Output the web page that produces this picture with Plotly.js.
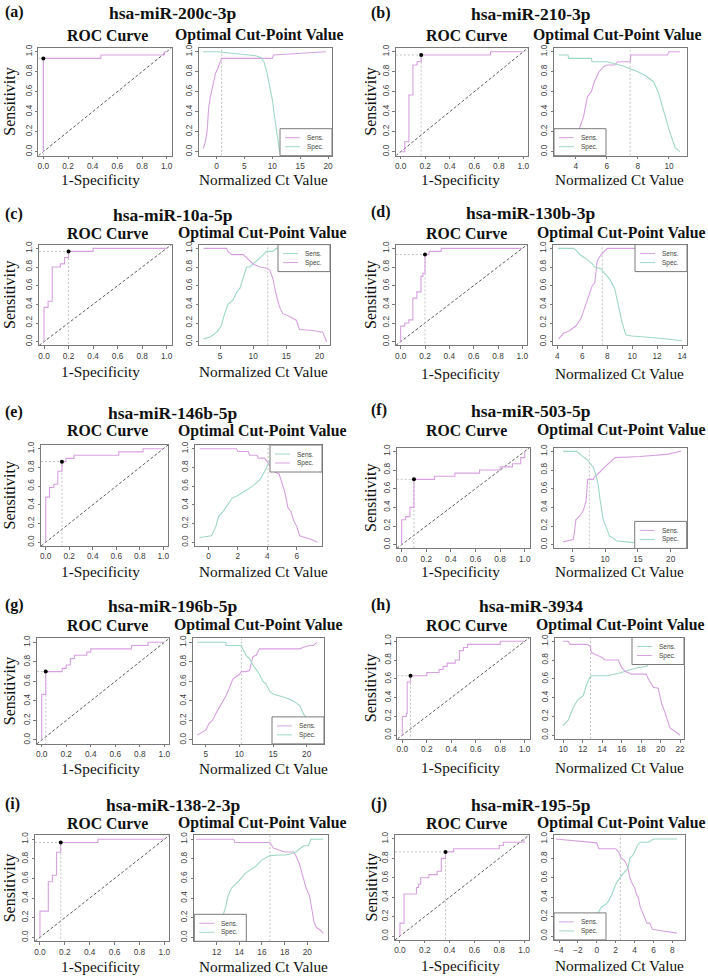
<!DOCTYPE html>
<html>
<head>
<meta charset="utf-8">
<script src="https://cdn.plot.ly/plotly-3.0.1.min.js"></script>
<style>
  html, body { margin: 0; padding: 0; background: #fff; }
  #chart { width: 708px; height: 976px; }
</style>
</head>
<body>
<div id="chart"></div>
<script>
// ---------- (a) hsa-miR-200c-3p ----------
const nameA = 'hsa-miR-200c-3p';
const rocFprA = [0, 0, 0.467, 0.98, 1];
const rocTprA = [0, 0.933, 0.967, 1, 1];
const optA = [0, 0.933];
const ctSensA = [-2.4, -2.0, -1.7, -1.4, -1.1, -0.8, -0.5, -0.2, 0.2, 0.5, 0.9, 10.0, 10.2, 19.6];
const sensA = [0.03, 0.1, 0.2, 0.45, 0.55, 0.62, 0.72, 0.78, 0.83, 0.87, 0.933, 0.933, 0.967, 1.0];
const ctSpecA = [-2.4, 0, 2, 4, 6, 7, 8, 8.5, 9, 9.5, 10.0, 10.4, 10.9, 11.3];
const specA = [1.0, 1.0, 0.99, 0.98, 0.97, 0.96, 0.94, 0.9, 0.8, 0.66, 0.52, 0.35, 0.15, 0.0];
const cutA = 0.9;

// ---------- (b) hsa-miR-210-3p ----------
const nameB = 'hsa-miR-210-3p';
const rocFprB = [0, 0.033, 0.067, 0.1, 0.133, 0.167, 0.733, 1];
const rocTprB = [0, 0.1, 0.567, 0.867, 0.9, 0.967, 1, 1];
const optB = [0.167, 0.967];
const ctSensB = [3.0, 3.6, 4.0, 4.3, 4.5, 4.75, 5.0, 5.2, 5.5, 5.8, 6.0, 6.5, 6.7, 7.5, 7.55, 9.9, 10.0, 10.7];
const sensB = [0.0, 0.05, 0.13, 0.25, 0.35, 0.55, 0.6, 0.7, 0.8, 0.85, 0.867, 0.867, 0.9, 0.9, 0.967, 0.967, 1.0, 1.0];
const ctSpecB = [2.9, 3.5, 3.55, 5.0, 5.05, 6.0, 6.5, 7.0, 7.5, 8.0, 8.5, 9.0, 9.3, 9.6, 9.8, 10.0, 10.2, 10.4, 10.7];
const specB = [0.967, 0.967, 0.933, 0.933, 0.9, 0.9, 0.88, 0.86, 0.83, 0.8, 0.76, 0.7, 0.6, 0.45, 0.33, 0.22, 0.12, 0.04, 0.0];
const cutB = 7.5;

// ---------- (c) hsa-miR-10a-5p ----------
const nameC = 'hsa-miR-10a-5p';
const rocFprC = [0, 0, 0.033, 0.067, 0.133, 0.167, 0.2, 0.4, 1];
const rocTprC = [0, 0.367, 0.433, 0.8, 0.833, 0.9, 0.967, 1, 1];
const optC = [0.2, 0.967];
const ctSensC = [2.5, 3.5, 4.5, 5.2, 5.7, 6.2, 7.0, 7.5, 8.0, 8.5, 9.0, 9.5, 10.0, 10.5, 11.0, 11.5, 12.0, 13.0, 13.5, 21.1];
const sensC = [0.03, 0.05, 0.1, 0.17, 0.3, 0.4, 0.45, 0.53, 0.57, 0.7, 0.8, 0.8, 0.83, 0.87, 0.9, 0.93, 0.967, 0.967, 1.0, 1.0];
const ctSpecC = [2.5, 6.0, 6.2, 6.8, 8.5, 9.0, 9.5, 10.0, 11.0, 12.0, 12.5, 13.0, 13.5, 14.0, 14.5, 15.5, 16.5, 17.0, 19.0, 20.5, 21.1];
const specC = [1.0, 1.0, 0.967, 0.933, 0.933, 0.9, 0.867, 0.833, 0.8, 0.79, 0.77, 0.67, 0.5, 0.37, 0.3, 0.27, 0.23, 0.13, 0.12, 0.1, 0.0];
const cutC = 12.2;

// ---------- (d) hsa-miR-130b-3p ----------
const nameD = 'hsa-miR-130b-3p';
const rocFprD = [0, 0, 0.033, 0.067, 0.1, 0.133, 0.167, 0.183, 0.2, 0.233, 0.333, 1];
const rocTprD = [0, 0.167, 0.2, 0.233, 0.467, 0.533, 0.7, 0.733, 0.933, 0.967, 1, 1];
const optD = [0.2, 0.933];
const ctSensD = [4.1, 4.5, 5.0, 5.5, 5.9, 6.2, 6.5, 6.8, 7.0, 7.2, 7.5, 7.8, 8.0, 14.0];
const sensD = [0.03, 0.09, 0.12, 0.17, 0.25, 0.37, 0.5, 0.6, 0.63, 0.87, 0.93, 0.97, 1.0, 1.0];
const ctSpecD = [4.05, 5.3, 5.6, 5.8, 6.2, 6.5, 6.8, 7.0, 7.5, 7.8, 8.2, 8.6, 8.9, 9.2, 9.5, 10.0, 12.0, 14.0];
const specD = [1.0, 1.0, 0.967, 0.933, 0.9, 0.867, 0.833, 0.8, 0.78, 0.73, 0.67, 0.57, 0.4, 0.2, 0.07, 0.06, 0.04, 0.01];
const cutD = 7.6;

// ---------- (e) hsa-miR-146b-5p ----------
const nameE = 'hsa-miR-146b-5p';
const rocFprE = [0, 0, 0.033, 0.069, 0.103, 0.138, 0.172, 0.241, 0.621, 0.828, 1];
const rocTprE = [0, 0.483, 0.586, 0.621, 0.759, 0.862, 0.897, 0.931, 0.966, 1, 1];
const optE = [0.138, 0.862];
const ctSensE = [-0.6, 0.2, 0.5, 0.7, 1.0, 1.3, 1.6, 2.0, 2.5, 3.0, 3.5, 3.8, 4.0, 4.2, 4.4, 4.6, 7.4];
const sensE = [0.05, 0.07, 0.17, 0.28, 0.33, 0.4, 0.47, 0.5, 0.55, 0.6, 0.67, 0.75, 0.82, 0.87, 0.93, 1.0, 1.0];
const ctSpecE = [-0.6, 1.9, 2.0, 2.7, 2.8, 3.3, 3.4, 3.8, 4.0, 4.4, 4.8, 5.0, 5.2, 5.4, 5.6, 5.8, 6.0, 6.2, 7.0, 7.4];
const specE = [1.0, 1.0, 0.97, 0.97, 0.93, 0.93, 0.9, 0.9, 0.86, 0.76, 0.73, 0.63, 0.53, 0.37, 0.33, 0.23, 0.17, 0.07, 0.03, 0.0];
const cutE = 4.05;

// ---------- (f) hsa-miR-503-5p ----------
const nameF = 'hsa-miR-503-5p';
const rocFprF = [0, 0, 0.033, 0.067, 0.1, 0.267, 0.433, 0.633, 0.8, 0.9, 0.967, 1];
const rocTprF = [0, 0.267, 0.3, 0.4, 0.7, 0.733, 0.767, 0.8, 0.833, 0.867, 0.933, 1];
const optF = [0.1, 0.7];
const ctSensF = [3.6, 5.15, 5.4, 5.55, 6.2, 6.7, 7.1, 7.35, 8.2, 8.45, 8.95, 9.45, 9.95, 10.7, 11.5, 15.3, 19.4, 21.6];
const sensF = [0.03, 0.055, 0.18, 0.27, 0.31, 0.37, 0.47, 0.7, 0.7, 0.733, 0.76, 0.8, 0.833, 0.88, 0.933, 0.945, 0.967, 1.0];
const ctSpecF = [3.6, 5.65, 6.2, 6.9, 7.4, 7.7, 8.2, 8.6, 8.95, 9.2, 9.45, 9.7, 10.2, 10.7, 11.2, 11.75, 13.3, 15.3, 17.0];
const specF = [1.0, 1.0, 0.967, 0.933, 0.9, 0.87, 0.83, 0.745, 0.64, 0.5, 0.4, 0.27, 0.18, 0.09, 0.07, 0.04, 0.03, 0.01, 0.0];
const cutF = 7.6;

// ---------- (g) hsa-miR-196b-5p ----------
const nameG = 'hsa-miR-196b-5p';
const rocFprG = [0, 0, 0.033, 0.167, 0.2, 0.233, 0.267, 0.367, 0.4, 0.733, 0.867, 1];
const rocTprG = [0, 0.467, 0.7, 0.733, 0.767, 0.833, 0.867, 0.9, 0.933, 0.967, 1, 1];
const optG = [0.033, 0.7];
const ctSensG = [3.7, 4.5, 5.0, 5.5, 6.0, 6.5, 7.0, 7.5, 8.0, 8.5, 9.0, 9.5, 10.0, 10.3, 11.0, 11.5, 12.0, 12.5, 13.0, 19.0, 19.5, 20.5, 21.0, 21.5];
const sensG = [0.05, 0.08, 0.1, 0.17, 0.2, 0.27, 0.33, 0.4, 0.45, 0.53, 0.62, 0.65, 0.67, 0.7, 0.7, 0.71, 0.85, 0.87, 0.933, 0.933, 0.95, 0.967, 0.967, 1.0];
const ctSpecG = [3.7, 8.0, 8.05, 10.3, 10.5, 11.0, 11.5, 12.0, 12.5, 13.0, 13.5, 14.0, 14.5, 15.0, 16.0, 17.0, 18.0, 19.0, 19.5, 20.0, 20.5, 21.0, 21.5];
const specG = [1.0, 1.0, 0.967, 0.967, 0.933, 0.867, 0.833, 0.767, 0.72, 0.67, 0.6, 0.57, 0.5, 0.47, 0.45, 0.43, 0.4, 0.35, 0.27, 0.22, 0.15, 0.07, 0.0];
const cutG = 10.3;

// ---------- (h) hsa-miR-3934 ----------
const nameH = 'hsa-miR-3934';
const rocFprH = [0, 0, 0.033, 0.04, 0.067, 0.2, 0.3, 0.333, 0.367, 0.433, 0.467, 0.5, 0.533, 0.8, 1];
const rocTprH = [0, 0.2, 0.233, 0.567, 0.633, 0.667, 0.7, 0.733, 0.767, 0.8, 0.9, 0.933, 0.967, 1, 1];
const optH = [0.067, 0.633];
const ctSensH = [9.95, 10.5, 11.0, 11.5, 12.05, 12.4, 12.75, 12.9, 14.5, 15.8, 17.5, 18.6, 18.9, 19.5, 20.2, 21.0, 22.0];
const sensH = [0.1, 0.16, 0.29, 0.38, 0.42, 0.54, 0.62, 0.633, 0.633, 0.663, 0.716, 0.733, 0.79, 0.9, 0.967, 1.0, 1.0];
const ctSpecH = [9.95, 10.5, 10.7, 12.4, 12.75, 12.9, 13.3, 13.95, 14.3, 15.65, 16.0, 16.35, 17.0, 18.5, 18.9, 19.25, 19.75, 20.1, 20.45, 20.95, 22.0];
const specH = [1.0, 1.0, 0.967, 0.967, 0.95, 0.88, 0.86, 0.83, 0.8, 0.8, 0.72, 0.68, 0.65, 0.65, 0.57, 0.51, 0.5, 0.34, 0.24, 0.08, 0.0];
const cutH = 12.8;

// ---------- (i) hsa-miR-138-2-3p ----------
const nameI = 'hsa-miR-138-2-3p';
const rocFprI = [0, 0, 0.067, 0.067, 0.1, 0.133, 0.167, 0.467, 1];
const rocTprI = [0, 0.267, 0.333, 0.567, 0.633, 0.867, 0.967, 1, 1];
const optI = [0.167, 0.967];
const ctSensI = [10.2, 13.5, 13.6, 16.7, 17.0, 17.5, 18.0, 18.8, 19.0, 19.3, 19.6, 19.9, 20.2, 20.4, 20.6, 20.8, 21.2, 21.4];
const sensI = [1.0, 1.0, 0.967, 0.967, 0.91, 0.89, 0.87, 0.87, 0.83, 0.75, 0.62, 0.5, 0.42, 0.28, 0.15, 0.1, 0.07, 0.04];
const ctSpecI = [10.2, 11.0, 12.0, 12.5, 12.8, 13.0, 13.3, 13.6, 14.0, 14.5, 15.0, 15.5, 16.0, 16.5, 16.7, 17.5, 18.0, 18.5, 19.0, 19.3, 19.7, 20.1, 20.3, 21.4];
const specI = [0.03, 0.05, 0.1, 0.2, 0.31, 0.42, 0.5, 0.53, 0.58, 0.65, 0.69, 0.73, 0.79, 0.82, 0.833, 0.84, 0.84, 0.85, 0.87, 0.9, 0.933, 0.933, 1.0, 1.0];
const cutI = 16.7;

// ---------- (j) hsa-miR-195-5p ----------
const nameJ = 'hsa-miR-195-5p';
const rocFprJ = [0, 0, 0.033, 0.133, 0.15, 0.167, 0.233, 0.3, 0.333, 0.367, 0.433, 0.8, 0.833, 1];
const rocTprJ = [0, 0.133, 0.433, 0.5, 0.533, 0.6, 0.633, 0.667, 0.8, 0.867, 0.9, 0.933, 0.967, 1];
const optJ = [0.367, 0.867];
const ctSensJ = [-4.35, -1.0, -0.5, 0.0, 0.2, 2.0, 2.3, 2.6, 2.9, 3.1, 3.3, 3.5, 3.8, 4.0, 4.2, 4.4, 4.6, 4.8, 5.0, 5.3, 5.6, 5.9, 6.5, 8.5];
const sensJ = [1.0, 0.97, 0.96, 0.96, 0.9, 0.9, 0.867, 0.8, 0.78, 0.75, 0.7, 0.6, 0.53, 0.5, 0.43, 0.4, 0.3, 0.25, 0.2, 0.133, 0.133, 0.07, 0.06, 0.03];
const ctSpecJ = [-4.35, -3.0, -1.0, 0.0, 0.2, 0.5, 1.0, 1.3, 1.6, 2.0, 2.5, 3.0, 3.3, 3.5, 3.8, 4.0, 4.3, 4.6, 5.5, 6.0, 8.5];
const specJ = [0.0, 0.03, 0.1, 0.2, 0.25, 0.3, 0.33, 0.37, 0.43, 0.53, 0.61, 0.66, 0.7, 0.8, 0.83, 0.867, 0.933, 0.967, 0.967, 1.0, 1.0];
const cutJ = 2.5;

const panels = [
  { tag: '(a)', name: nameA, fpr: rocFprA, tpr: rocTprA, opt: optA, ctSens: ctSensA, sens: sensA, ctSpec: ctSpecA, spec: specA, cut: cutA },
  { tag: '(b)', name: nameB, fpr: rocFprB, tpr: rocTprB, opt: optB, ctSens: ctSensB, sens: sensB, ctSpec: ctSpecB, spec: specB, cut: cutB },
  { tag: '(c)', name: nameC, fpr: rocFprC, tpr: rocTprC, opt: optC, ctSens: ctSensC, sens: sensC, ctSpec: ctSpecC, spec: specC, cut: cutC },
  { tag: '(d)', name: nameD, fpr: rocFprD, tpr: rocTprD, opt: optD, ctSens: ctSensD, sens: sensD, ctSpec: ctSpecD, spec: specD, cut: cutD },
  { tag: '(e)', name: nameE, fpr: rocFprE, tpr: rocTprE, opt: optE, ctSens: ctSensE, sens: sensE, ctSpec: ctSpecE, spec: specE, cut: cutE },
  { tag: '(f)', name: nameF, fpr: rocFprF, tpr: rocTprF, opt: optF, ctSens: ctSensF, sens: sensF, ctSpec: ctSpecF, spec: specF, cut: cutF },
  { tag: '(g)', name: nameG, fpr: rocFprG, tpr: rocTprG, opt: optG, ctSens: ctSensG, sens: sensG, ctSpec: ctSpecG, spec: specG, cut: cutG },
  { tag: '(h)', name: nameH, fpr: rocFprH, tpr: rocTprH, opt: optH, ctSens: ctSensH, sens: sensH, ctSpec: ctSpecH, spec: specH, cut: cutH },
  { tag: '(i)', name: nameI, fpr: rocFprI, tpr: rocTprI, opt: optI, ctSens: ctSensI, sens: sensI, ctSpec: ctSpecI, spec: specI, cut: cutI },
  { tag: '(j)', name: nameJ, fpr: rocFprJ, tpr: rocTprJ, opt: optJ, ctSens: ctSensJ, sens: sensJ, ctSpec: ctSpecJ, spec: specJ, cut: cutJ }
];

// Page geometry (pixels): plot boxes, cut-point axis ranges, legend corner,
// heading rows, subplot-title row, cut-title centre, axis-title row, and
// whether sensitivity is drawn in green.
const frames = [
  { col: 0, roc: [38.4, 171.6], cx: [198.7, 332], y: [47.7, 155.7], xr: [-3.2, 20.7], dt: 5, leg: 'br', hy: 12, ty: 35, tcx: 259, ay: 179, sensGreen: false },
  { col: 1, roc: [395.8, 528.2], cx: [554, 686.7], y: [47.7, 155.7], xr: [2.6, 11.14], dt: 2, leg: 'bl', hy: 13, ty: 35, tcx: 617, ay: 179, sensGreen: false },
  { col: 0, roc: [39.1, 171.6], cx: [199, 330], y: [244.6, 345.4], xr: [1.83, 21.6], dt: 5, leg: 'tr', hy: 214, ty: 233, tcx: 262, ay: 372, sensGreen: true },
  { col: 1, roc: [395.8, 527.2], cx: [553, 687], y: [244.6, 345.4], xr: [3.65, 14.4], dt: 2, leg: 'tr', hy: 212, ty: 233, tcx: 621, ay: 373, sensGreen: false },
  { col: 0, roc: [41, 168], cx: [195, 322], y: [445, 546], xr: [-0.92, 7.72], dt: 2, leg: 'tr', hy: 412, ty: 431, tcx: 262, ay: 571, sensGreen: true },
  { col: 1, roc: [396.7, 529.7], cx: [554, 686.7], y: [447.6, 548.4], xr: [2.21, 22.44], dt: 5, leg: 'br', hy: 410, ty: 430, tcx: 621, ay: 571, sensGreen: false },
  { col: 0, roc: [36.8, 169.2], cx: [192.7, 324], y: [638.4, 743.9], xr: [3.07, 22.57], dt: 5, leg: 'br', hy: 605, ty: 625, tcx: 258, ay: 768, sensGreen: false },
  { col: 1, roc: [397.4, 529.6], cx: [555, 684], y: [637.5, 739], xr: [9.15, 22.4], dt: 2, leg: 'tr', hy: 605, ty: 625, tcx: 620, ay: 767, sensGreen: true },
  { col: 0, roc: [35, 169.3], cx: [194.3, 328.3], y: [835.3, 941.3], xr: [10.03, 21.85], dt: 2, leg: 'bl', hy: 804, ty: 823, tcx: 262, ay: 966, sensGreen: false },
  { col: 1, roc: [395, 529], cx: [554, 685], y: [835.1, 939.9], xr: [-4.53, 9.34], dt: 2, leg: 'bl', hy: 804, ty: 823, tcx: 621, ay: 965, sensGreen: false }
];

// Column-wide text anchors (pixels)
const colText = [
  { tag: 3, name: 173, roc: 107.5, spec: 100, ct: 263, sensX: 10 },
  { tag: 369, name: 531, roc: 466, spec: 460, ct: 619, sensX: 371 }
];

const W = 708, H = 976;
const PINK = '#D7A1E0', GREEN = '#9FD8C3', GUIDE = '#BDBDBD', FRAME = '#7a7a7a';
const SERIF = 'Liberation Serif, Times New Roman, serif';
const SANS = 'Liberation Sans, Arial, Helvetica, sans-serif';
const px = v => v / W;
const py = v => 1 - v / H;
const sfx = n => (n === 1 ? '' : String(n));

function axis(o) {
  return Object.assign({
    showline: true, mirror: true, linecolor: FRAME, linewidth: 1,
    ticks: 'outside', ticklen: 2.5, tickwidth: 1, tickcolor: FRAME,
    showgrid: false, zeroline: false, tickmode: 'linear', tick0: 0,
    tickfont: { family: SANS, size: 8.3, color: '#3c3c3c' },
    fixedrange: true
  }, o);
}

const traces = [], shapes = [], annotations = [];
const layout = {
  width: W, height: H,
  margin: { l: 0, r: 0, t: 0, b: 0 },
  paper_bgcolor: '#fff', plot_bgcolor: '#fff',
  showlegend: false
};

function text(t, x, y, size, opts) {
  annotations.push(Object.assign({
    text: t, xref: 'paper', yref: 'paper', x: px(x), y: py(y),
    xanchor: 'center', yanchor: 'middle', showarrow: false,
    font: { family: SERIF, size: size, color: '#111' }
  }, opts || {}));
}

panels.forEach((p, i) => {
  const f = frames[i];
  const ct = colText[f.col];
  const rn = 2 * i + 1, cn = 2 * i + 2;
  const rx = 'x' + sfx(rn), ry = 'y' + sfx(rn);
  const cx = 'x' + sfx(cn), cy = 'y' + sfx(cn);
  const yDom = [py(f.y[1]), py(f.y[0])];
  const R = [-0.04, 1.04];

  layout['xaxis' + sfx(rn)] = axis({ domain: [px(f.roc[0]), px(f.roc[1])], range: R, dtick: 0.2, tickformat: '.1f', anchor: ry });
  layout['yaxis' + sfx(rn)] = axis({ domain: yDom, range: R, dtick: 0.2, tickformat: '.1f', anchor: rx, tickangle: -90 });
  layout['xaxis' + sfx(cn)] = axis({ domain: [px(f.cx[0]), px(f.cx[1])], range: f.xr, dtick: f.dt, anchor: cy });
  layout['yaxis' + sfx(cn)] = axis({ domain: yDom, range: R, dtick: 0.2, tickformat: '.1f', anchor: cx, tickangle: -90 });

  const sensCol = f.sensGreen ? GREEN : PINK;
  const specCol = f.sensGreen ? PINK : GREEN;
  const base = { mode: 'lines', hoverinfo: 'skip', showlegend: false };

  // ROC panel: chance diagonal, guides to the optimal point, curve, point
  traces.push(Object.assign({}, base, { x: R, y: R, xaxis: rx, yaxis: ry, line: { color: '#333', width: 0.8, dash: '3px,2px' } }));
  traces.push(Object.assign({}, base, { x: [R[0], p.opt[0], p.opt[0]], y: [p.opt[1], p.opt[1], R[0]], xaxis: rx, yaxis: ry, line: { color: GUIDE, width: 0.9, dash: '2px,2px' } }));
  traces.push(Object.assign({}, base, { x: p.fpr, y: p.tpr, xaxis: rx, yaxis: ry, line: { color: PINK, width: 1.1, shape: 'hv' } }));
  traces.push({ x: [p.opt[0]], y: [p.opt[1]], xaxis: rx, yaxis: ry, mode: 'markers', hoverinfo: 'skip', showlegend: false, marker: { color: '#000', size: 4 } });

  // Cut-point panel: cutoff marker, sensitivity and specificity curves
  traces.push(Object.assign({}, base, { x: [p.cut, p.cut], y: R, xaxis: cx, yaxis: cy, line: { color: GUIDE, width: 0.9, dash: '2px,2px' } }));
  traces.push(Object.assign({}, base, { x: p.ctSens, y: p.sens, xaxis: cx, yaxis: cy, line: { color: sensCol, width: 1.1 } }));
  traces.push(Object.assign({}, base, { x: p.ctSpec, y: p.spec, xaxis: cx, yaxis: cy, line: { color: specCol, width: 1.1 } }));

  // Legend box
  const LW = 52, LH = 27;
  let lx0, ly0;
  if (f.leg === 'br') { lx0 = f.cx[1] - LW; ly0 = f.y[1] - LH; }
  else if (f.leg === 'bl') { lx0 = f.cx[0]; ly0 = f.y[1] - LH; }
  else { lx0 = f.cx[1] - LW; ly0 = f.y[0]; }
  shapes.push({ type: 'rect', xref: 'paper', yref: 'paper', x0: px(lx0), x1: px(lx0 + LW), y0: py(ly0 + LH), y1: py(ly0), fillcolor: '#fff', line: { color: FRAME, width: 1 }, layer: 'above' });
  [['Sens.', sensCol], ['Spec.', specCol]].forEach(([t, c], k) => {
    const yy = ly0 + 9 + k * 9;
    shapes.push({ type: 'line', xref: 'paper', yref: 'paper', x0: px(lx0 + 5), x1: px(lx0 + 20), y0: py(yy), y1: py(yy), line: { color: c, width: 1 }, layer: 'above' });
    text(t, lx0 + 25, yy, 6.5, { xanchor: 'left', font: { family: SANS, size: 6.5, color: '#444' } });
  });

  // Headings and axis titles
  text('<b>' + p.tag + '</b>', ct.tag, f.hy, 16, { xanchor: 'left' });
  text('<b>' + p.name + '</b>', ct.name, f.hy + 1, 17.5);
  text('<b>ROC Curve</b>', ct.roc, f.ty, 15.8);
  text('<b>Optimal Cut-Point Value</b>', f.tcx, f.ty, 15.8);
  text('1-Specificity', ct.spec, f.ay, 15.3);
  text('Normalized Ct Value', ct.ct, f.ay, 15.3);
  text('Sensitivity', ct.sensX, (f.y[0] + f.y[1]) / 2, 16, { textangle: -90 });
});

layout.shapes = shapes;
layout.annotations = annotations;

Plotly.newPlot('chart', traces, layout, { staticPlot: true, displayModeBar: false });
</script>
</body>
</html>
